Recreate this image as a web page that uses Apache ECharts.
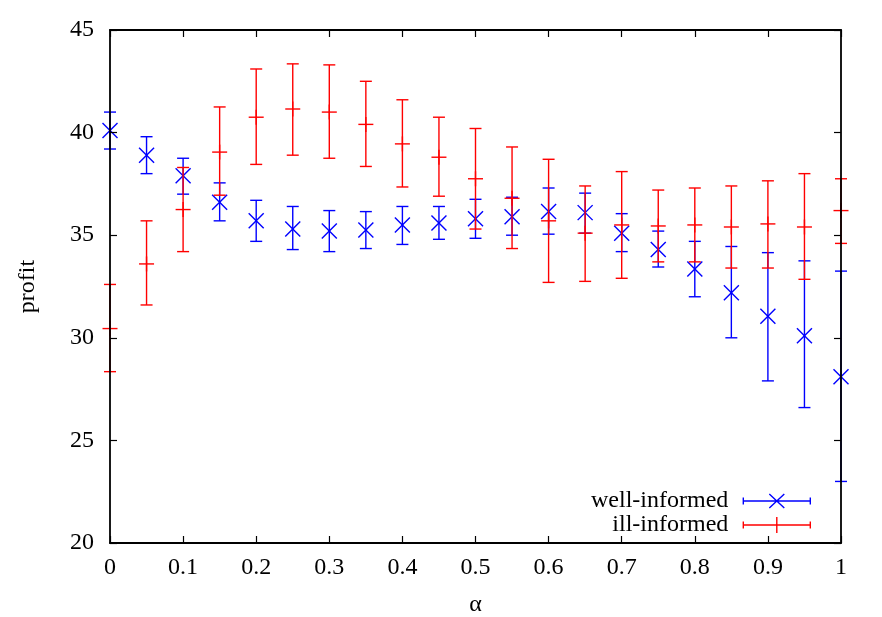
<!DOCTYPE html>
<html>
<head>
<meta charset="utf-8">
<script src="https://cdn.jsdelivr.net/npm/echarts@6/dist/echarts.min.js"></script>
<style>
  html, body { margin: 0; padding: 0; background: #fff; }
  #profit_alpha { width: 882px; height: 617px; }
</style>
</head>
<body>
<div id="profit_alpha"></div>
<script>
  // alpha values on the x axis
  const alpha = [0, 0.05, 0.1, 0.15, 0.2, 0.25, 0.3, 0.35, 0.4, 0.45, 0.5,
                 0.55, 0.6, 0.65, 0.7, 0.75, 0.8, 0.85, 0.9, 0.95, 1];

  // well-informed: mean and error bar ends
  const wellMean = [40.1, 38.9, 37.9, 36.6, 35.7, 35.3, 35.2, 35.25, 35.5, 35.6, 35.8,
                    35.9, 36.15, 36.1, 35.1, 34.3, 33.35, 32.2, 31.05, 30.1, 28.1];
  const wellLow = [39.2, 38.0, 37.0, 35.7, 34.7, 34.3, 34.2, 34.35, 34.55, 34.8, 34.85,
                   35.0, 35.05, 35.1, 34.2, 33.45, 32.0, 30.0, 27.9, 26.6, 23.0];
  const wellHigh = [41.0, 39.8, 38.75, 37.55, 36.7, 36.4, 36.2, 36.15, 36.4, 36.4, 36.75,
                    36.85, 37.3, 37.05, 36.05, 35.2, 34.7, 34.45, 34.15, 33.75, 33.25];

  // ill-informed: mean and error bar ends
  const illMean = [30.45, 33.6, 36.25, 39.05, 40.75, 41.15, 41.0, 40.4, 39.45, 38.8, 37.75,
                   36.8, 35.7, 35.1, 35.5, 35.45, 35.5, 35.4, 35.55, 35.4, 36.2];
  const illLow = [28.35, 31.6, 34.2, 36.95, 38.45, 38.9, 38.75, 38.35, 37.35, 36.9, 35.3,
                  34.35, 32.7, 32.75, 32.9, 33.7, 33.7, 33.4, 33.4, 32.85, 34.6];
  const illHigh = [32.6, 35.7, 38.3, 41.25, 43.1, 43.35, 43.3, 42.5, 41.6, 40.75, 40.2,
                   39.3, 38.7, 37.4, 38.1, 37.2, 37.3, 37.4, 37.65, 38.0, 37.75];

  const seriesNames = ['well-informed', 'ill-informed'];

  const font = "'Liberation Serif', 'DejaVu Serif', serif";
  const blue = '#0000ff';
  const red = '#ff0000';

  function rows(mean, low, high) {
    return alpha.map((a, i) => [a, mean[i], low[i], high[i]]);
  }

  function errorBar(marker) {
    return function (params, api) {
      const x = api.value(0);
      const p = api.coord([x, api.value(1)]);
      const lo = api.coord([x, api.value(2)]);
      const hi = api.coord([x, api.value(3)]);
      const style = { stroke: api.visual('color'), lineWidth: 1.4, fill: null };
      const c = 6;
      const m = 7.5;
      const children = [
        { type: 'line', shape: { x1: p[0], y1: lo[1], x2: p[0], y2: hi[1] }, style: style },
        { type: 'line', shape: { x1: p[0] - c, y1: lo[1], x2: p[0] + c, y2: lo[1] }, style: style },
        { type: 'line', shape: { x1: p[0] - c, y1: hi[1], x2: p[0] + c, y2: hi[1] }, style: style }
      ];
      if (marker === 'x') {
        children.push({ type: 'line', shape: { x1: p[0] - m, y1: p[1] - m, x2: p[0] + m, y2: p[1] + m }, style: style });
        children.push({ type: 'line', shape: { x1: p[0] - m, y1: p[1] + m, x2: p[0] + m, y2: p[1] - m }, style: style });
      } else {
        children.push({ type: 'line', shape: { x1: p[0] - m, y1: p[1], x2: p[0] + m, y2: p[1] }, style: style });
        children.push({ type: 'line', shape: { x1: p[0], y1: p[1] - m, x2: p[0], y2: p[1] + m }, style: style });
      }
      return { type: 'group', children: children };
    };
  }

  const axisLine = { show: true, onZero: false, lineStyle: { color: '#000', width: 1.8 } };
  const axisTick = { show: true, inside: true, length: 7, lineStyle: { color: '#000', width: 1.2 } };
  const labelStyle = { color: '#000', fontFamily: font, fontSize: 24 };

  const option = {
    backgroundColor: '#fff',
    animation: false,
    grid: { left: 110, right: 41, top: 30, bottom: 74, outerBoundsMode: 'none', containLabel: false },
    legend: {
      orient: 'vertical',
      right: 71,
      top: 489,
      padding: 0,
      align: 'right',
      itemWidth: 67,
      itemHeight: 16,
      itemGap: 0,
      selectedMode: false,
      textStyle: { color: '#000', fontFamily: font, fontSize: 24, lineHeight: 24, padding: [0, 10, 0, 0] },
      data: [
        {
          name: seriesNames[0],
          icon: 'path://M0,8L67,8M0,4.5L0,11.5M67,4.5L67,11.5M26,1L41,15M41,1L26,15M0,0L0,0M67,16L67,16',
          itemStyle: { color: 'transparent', borderColor: blue, borderWidth: 1.4 }
        },
        {
          name: seriesNames[1],
          icon: 'path://M0,8L67,8M0,4.5L0,11.5M67,4.5L67,11.5M33.5,0L33.5,16',
          itemStyle: { color: 'transparent', borderColor: red, borderWidth: 1.4 }
        }
      ]
    },
    xAxis: [
      {
        type: 'value', min: 0, max: 1, interval: 0.1, zlevel: 1,
        name: 'α', nameLocation: 'middle', nameGap: 50,
        nameTextStyle: labelStyle,
        axisLine: axisLine, axisTick: axisTick, splitLine: { show: false },
        axisLabel: Object.assign({ margin: 13 }, labelStyle)
      },
      {
        type: 'value', position: 'top', min: 0, max: 1, interval: 0.1, zlevel: 1,
        axisLine: axisLine, axisTick: axisTick, splitLine: { show: false },
        axisLabel: { show: false }
      }
    ],
    yAxis: [
      {
        type: 'value', min: 20, max: 45, interval: 5, zlevel: 1,
        name: 'profit', nameLocation: 'middle', nameGap: 70,
        nameTextStyle: labelStyle,
        axisLine: axisLine, axisTick: axisTick, splitLine: { show: false },
        axisLabel: Object.assign({ margin: 16 }, labelStyle)
      },
      {
        type: 'value', position: 'right', min: 20, max: 45, interval: 5, zlevel: 1,
        axisLine: axisLine, axisTick: axisTick, splitLine: { show: false },
        axisLabel: { show: false }
      }
    ],
    series: [
      {
        name: seriesNames[0],
        type: 'custom',
        xAxisIndex: 0, yAxisIndex: 0,
        itemStyle: { color: blue },
        renderItem: errorBar('x'),
        encode: { x: 0, y: [1, 2, 3] },
        data: rows(wellMean, wellLow, wellHigh),
        z: 2
      },
      {
        name: seriesNames[1],
        type: 'custom',
        xAxisIndex: 0, yAxisIndex: 0,
        itemStyle: { color: red },
        renderItem: errorBar('+'),
        encode: { x: 0, y: [1, 2, 3] },
        data: rows(illMean, illLow, illHigh),
        z: 3
      }
    ]
  };

  const chart = echarts.init(document.getElementById('profit_alpha'));
  chart.setOption(option);
  window.addEventListener('resize', function () {
    chart.resize();
  });
</script>
</body>
</html>
